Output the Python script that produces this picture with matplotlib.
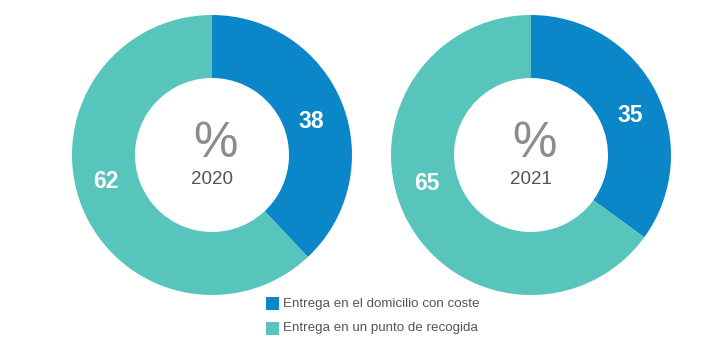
import matplotlib

matplotlib.use("Agg")
import matplotlib.pyplot as plt
from matplotlib.patches import Rectangle

plt.rcParams["font.family"] = ["Liberation Sans", "DejaVu Sans"]

years = ["2020", "2021"]
categories = ["Entrega en el domicilio con coste", "Entrega en un punto de recogida"]
shares_2020 = [38, 62]
shares_2021 = [35, 65]
colors = ["#0b86c9", "#58c5bc"]

W, H = 706, 351
fig = plt.figure(figsize=(W / 100, H / 100), dpi=100)
ax = fig.add_axes([0, 0, 1, 1])

R_OUT, R_IN = 140, 77
centres = [(212, 155), (531, 155)]
# label offsets from centre (hand-placed like the original)
label_off = [[(99, -34), (-106, 27)], [(99, -39), (-104, 28)]]

for (cx, cy), year, vals, offs in zip(
    centres, years, [shares_2020, shares_2021], label_off
):
    # y axis is inverted below, so counterclock=True ends up clockwise on screen
    ax.pie(
        vals,
        colors=colors,
        startangle=-90,
        counterclock=True,
        center=(cx, cy),
        radius=R_OUT,
        wedgeprops=dict(width=R_OUT - R_IN, linewidth=0),
        frame=True,
    )
    for v, (dx, dy) in zip(vals, offs):
        ax.text(cx + dx, cy + dy, str(v), ha="center", va="center",
                fontsize=16.5, fontweight="bold", color="white")
    ax.text(cx + 3, cy - 11, "%", ha="center", va="center",
            fontsize=36, color="#8c8c8c")
    ax.text(cx, cy + 25, year, ha="center", va="center",
            fontsize=13.5, color="#555555")

ax.set_xlim(0, W)
ax.set_ylim(H, 0)
ax.set_aspect("equal")
ax.axis("off")

# legend
for i, (lab, col) in enumerate(zip(categories, colors)):
    y = 303 + 25 * i
    ax.add_patch(Rectangle((266, y - 6), 13, 13, facecolor=col, edgecolor="none"))
    ax.text(283, y + 0.5, lab, ha="left", va="center", fontsize=9.6, color="#555555")

fig.savefig("out.png", dpi=100)
